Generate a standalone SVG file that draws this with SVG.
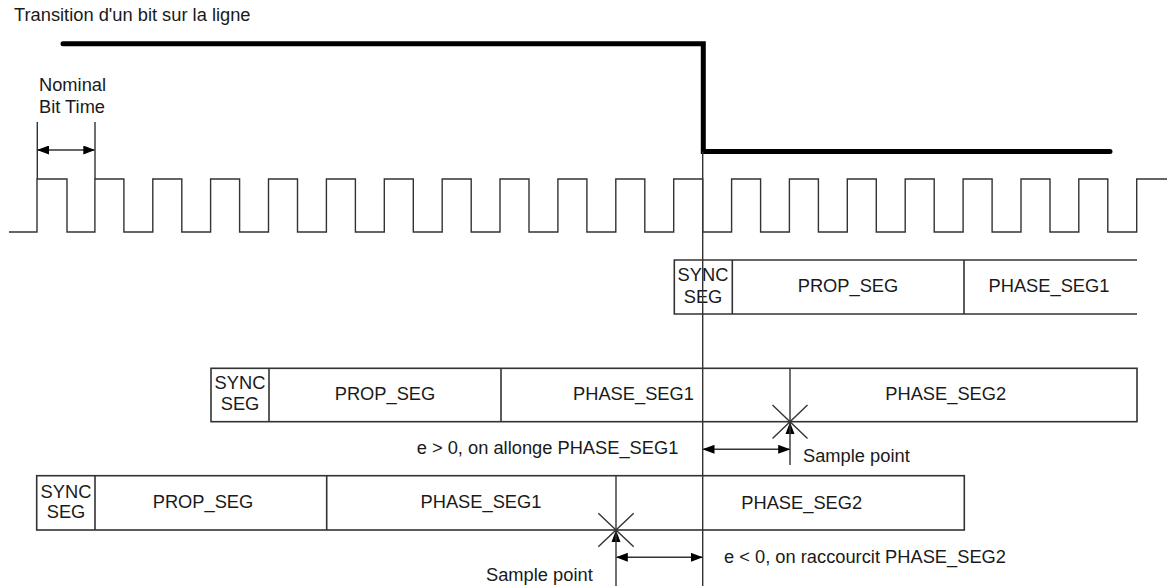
<svg xmlns="http://www.w3.org/2000/svg" width="1173" height="586" viewBox="0 0 1173 586">
<style>
text{font-family:"Liberation Sans",Arial,sans-serif;font-size:18.3px;fill:#1a1a1a}
.m{text-anchor:middle}
.thin{fill:none;stroke:#333;stroke-width:1.4}
.box{fill:none;stroke:#333;stroke-width:1.6}
.bit{fill:none;stroke:#000;stroke-width:5;stroke-linecap:round}
.tri{fill:#000}
</style>
<defs>
<marker id="ah" markerUnits="userSpaceOnUse" markerWidth="12" markerHeight="9" refX="11" refY="4.5" orient="auto-start-reverse" viewBox="0 0 12 9">
<path d="M0,0 L12,4.5 L0,9 z" fill="#000"/>
</marker>
</defs>
<rect width="1173" height="586" fill="#fff"/>
<g id="title"><text x="14" y="21">Transition d'un bit sur la ligne</text></g>
<g id="bit-signal"><path class="bit" d="M63,43.7 H703.3 V151.5 H1110"/></g>
<g id="nominal-label"><text x="39" y="91">Nominal</text><text x="39" y="113">Bit Time</text></g>
<g id="clock">
<path class="thin" d="M9,232 H37 V179 H67 V232 H94.9 V179 H123.9 V232 H152.8 V179 H181.8 V232 H210.6 V179 H239.6 V232 H268.5 V179 H297.5 V232 H326.4 V179 H355.4 V232 H384.3 V179 H413.3 V232 H442.2 V179 H471.2 V232 H500 V179 H529 V232 H557.9 V179 H586.9 V232 H615.8 V179 H644.8 V232 H673.7 V179 H702.7 V232 H731.6 V179 H760.6 V232 H789.4 V179 H818.4 V232 H847.3 V179 H876.3 V232 H905.2 V179 H934.2 V232 H963.1 V179 H992.1 V232 H1021 V179 H1050 V232 H1078.8 V179 H1107.8 V232 H1136.7 V179 H1167"/>
</g>
<g id="bit-time-top">
<path class="box" d="M1137,260 H674.3 V314 H1137 M732.3,260 V314 M964,260 V314"/>
<text class="m" x="703" y="281">SYNC</text><text class="m" x="703" y="303">SEG</text>
<text class="m" x="848" y="291.7">PROP_SEG</text>
<text class="m" x="1049" y="291.7">PHASE_SEG1</text>
</g>
<g id="bit-time-late">
<rect class="box" x="211" y="368.3" width="926" height="53.4"/>
<path class="box" d="M269,368.3 V421.7 M501,368.3 V421.7"/>
<text class="m" x="240" y="389.3">SYNC</text><text class="m" x="240" y="410.3">SEG</text>
<text class="m" x="385" y="400">PROP_SEG</text>
<text class="m" x="633.5" y="400">PHASE_SEG1</text>
<text class="m" x="945.7" y="399.5">PHASE_SEG2</text>
</g>
<g id="bit-time-early">
<rect class="box" x="36.7" y="475.7" width="927.6" height="54.3"/>
<path class="box" d="M95,475.7 V530 M326.7,475.7 V530"/>
<text class="m" x="66" y="498.3">SYNC</text><text class="m" x="66" y="518.3">SEG</text>
<text class="m" x="203" y="508.3">PROP_SEG</text>
<text class="m" x="481" y="508.3">PHASE_SEG1</text>
<text class="m" x="801.7" y="508.7">PHASE_SEG2</text>
</g>
<g id="sample-point-late">
<path class="thin" d="M772.5,405 L807.5,438.4 M807.5,405 L772.5,438.4"/>
<polygon class="tri" points="790,422 785.5,434 794.5,434"/>
<text x="803" y="461.7">Sample point</text>
</g>
<g id="sample-point-early">
<path class="thin" d="M598.3,513.3 L633.7,546.7 M633.7,513.3 L598.3,546.7"/>
<polygon class="tri" points="616,530 611.5,542 620.5,542"/>
<text x="486" y="580.7">Sample point</text>
</g>
<g id="labels">
<text x="416.7" y="454">e &gt; 0, on allonge PHASE_SEG1</text>
<text x="724" y="562.7">e &lt; 0, on raccourcit PHASE_SEG2</text>
</g>
<g id="connectors">
<path class="thin" d="M37.3,122 V179 M95,122 V179"/>
<line class="thin" x1="38" y1="150" x2="94.3" y2="150" marker-start="url(#ah)" marker-end="url(#ah)"/>
<line class="thin" x1="702.7" y1="151.5" x2="702.7" y2="586"/>
<line class="thin" x1="790" y1="368.3" x2="790" y2="465"/>
<line class="thin" x1="616" y1="475.7" x2="616" y2="586"/>
<line class="thin" x1="703.5" y1="449.3" x2="789.2" y2="449.3" marker-start="url(#ah)" marker-end="url(#ah)"/>
<line class="thin" x1="616.8" y1="557.3" x2="701.9" y2="557.3" marker-start="url(#ah)" marker-end="url(#ah)"/>
</g>
</svg>
